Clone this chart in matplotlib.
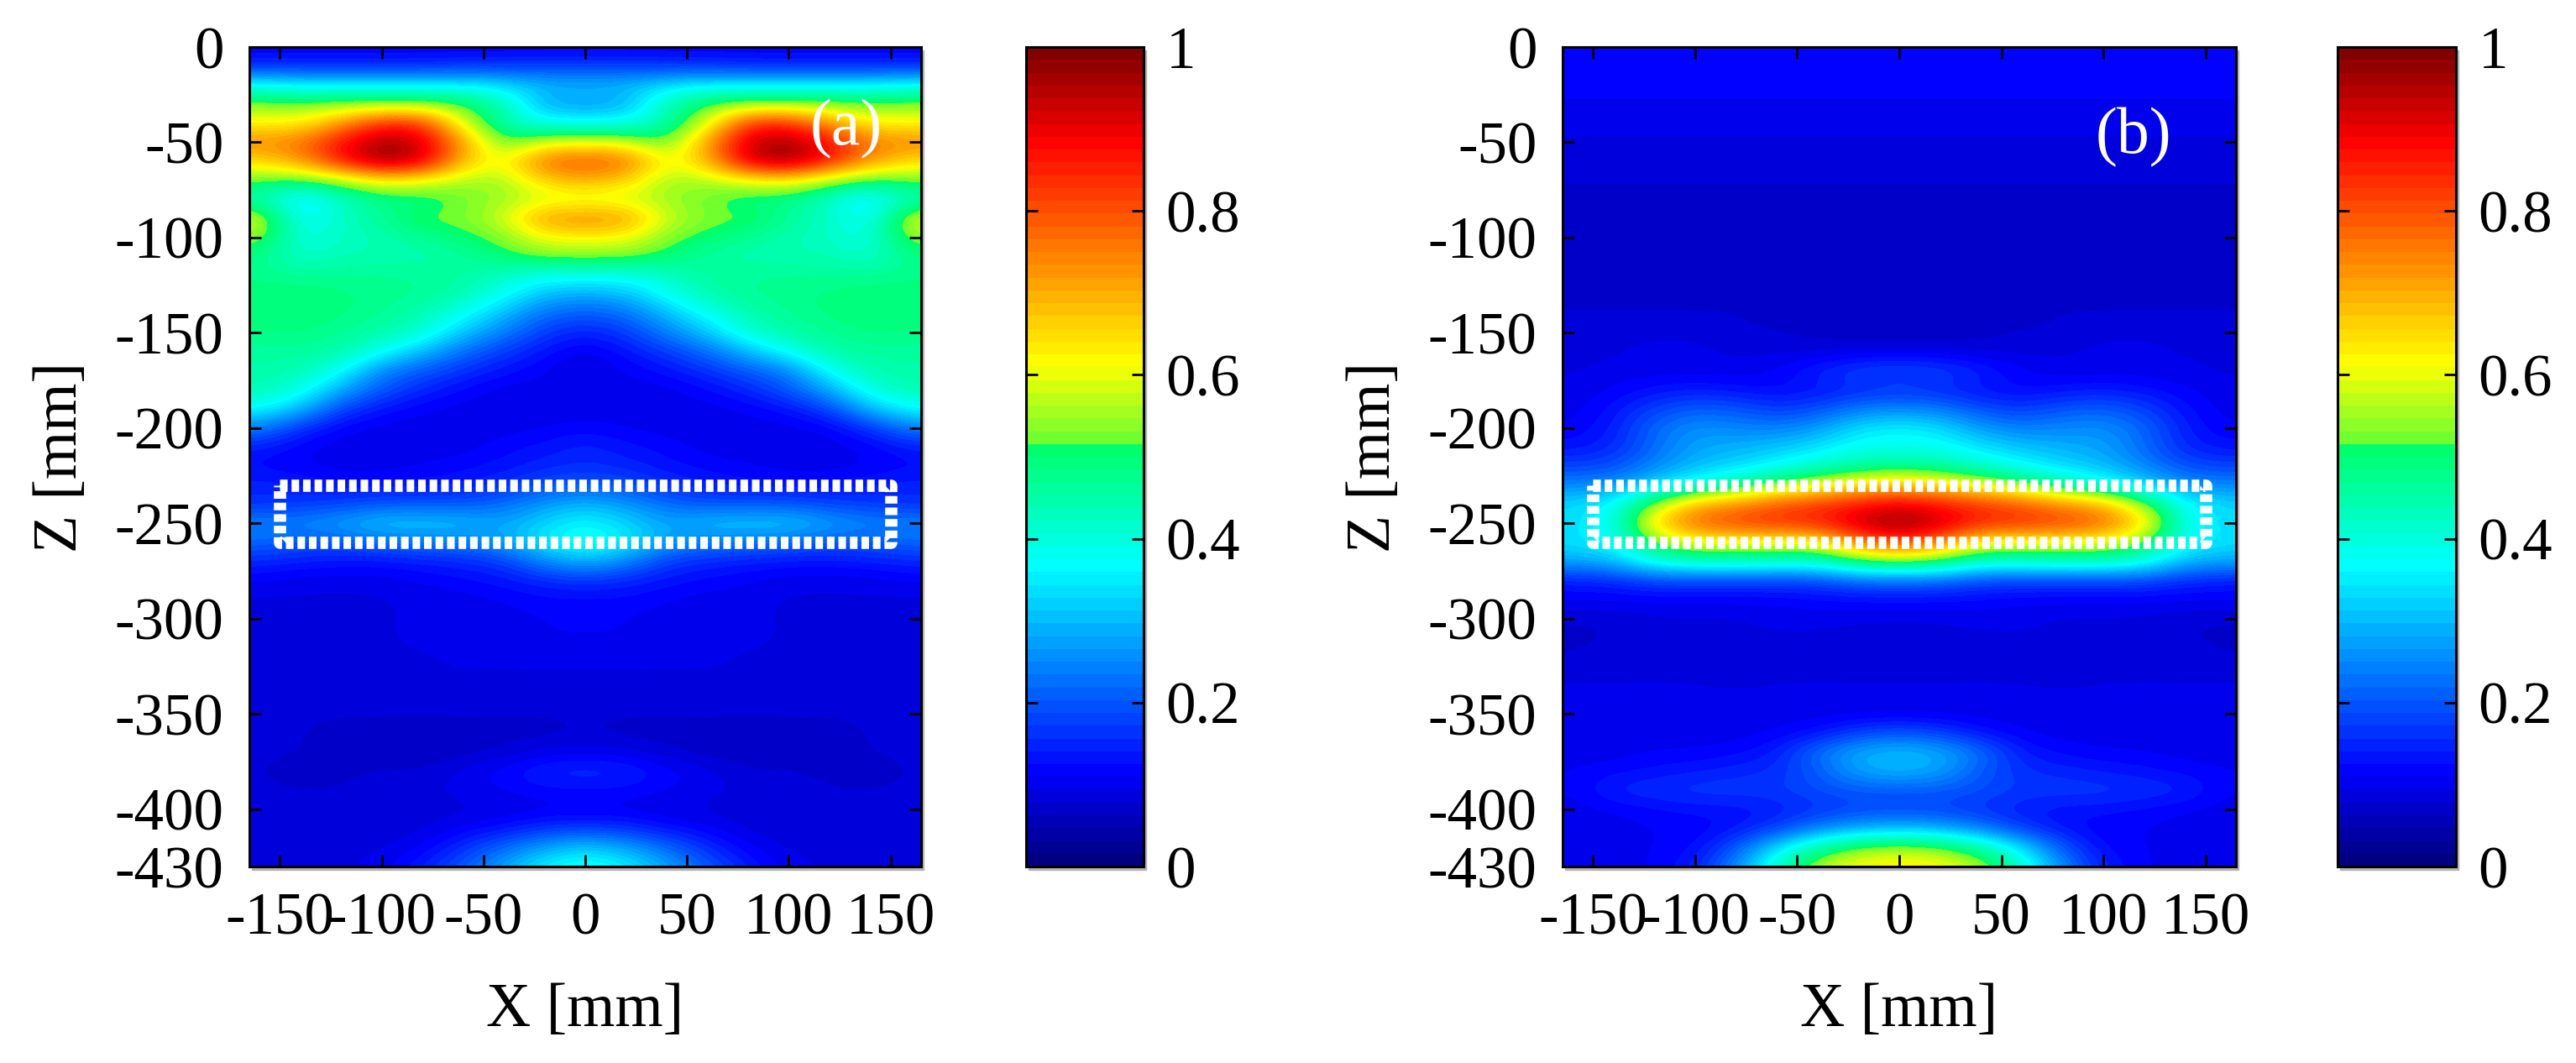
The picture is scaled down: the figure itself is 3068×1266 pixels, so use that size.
import numpy as np
import matplotlib
matplotlib.use('Agg')
import matplotlib.pyplot as plt
from matplotlib.colors import LinearSegmentedColormap
from matplotlib.patches import Rectangle

# half grid, x = 0..160 step 20 (mirrored for the negative side), z = 0..-440 step 10
x_half = [0, 20, 40, 60, 80, 100, 120, 140, 160]
z_rows = [-10 * i for i in range(45)]

field_a = [
    [.11, .11, .11, .11, .11, .11, .11, .11, .11],
    [.17, .17, .16, .16, .15, .15, .15, .15, .15],
    [.30, .30, .34, .36, .36, .36, .36, .36, .38],
    [.27, .28, .44, .52, .54, .54, .54, .53, .54],
    [.38, .38, .45, .58, .84, .85, .72, .62, .62],
    [.60, .59, .50, .72, .93, .97, .88, .76, .74],
    [.80, .78, .60, .68, .93, .98, .86, .72, .65],
    [.70, .66, .55, .56, .60, .62, .55, .50, .52],
    [.58, .58, .55, .52, .48, .48, .42, .33, .44],
    [.74, .73, .58, .53, .53, .47, .42, .36, .60],
    [.62, .61, .53, .50, .47, .44, .42, .39, .55],
    [.53, .53, .50, .46, .44, .44, .44, .41, .48],
    [.39, .38, .42, .46, .47, .47, .47, .47, .48],
    [.28, .30, .38, .44, .47, .48, .49, .50, .50],
    [.20, .22, .30, .38, .44, .47, .49, .50, .50],
    [.14, .17, .24, .31, .41, .45, .47, .49, .48],
    [.10, .13, .17, .22, .30, .38, .45, .46, .46],
    [.08, .11, .13, .16, .20, .24, .38, .44, .45],
    [.12, .10, .10, .12, .15, .20, .28, .40, .44],
    [.10, .09, .10, .10, .11, .13, .18, .30, .37],
    [.12, .11, .10, .10, .10, .10, .11, .16, .24],
    [.15, .13, .12, .10, .10, .10, .10, .11, .14],
    [.16, .15, .13, .12, .11, .10, .10, .11, .12],
    [.20, .19, .16, .14, .13, .13, .13, .14, .15],
    [.30, .27, .22, .20, .20, .20, .18, .17, .16],
    [.37, .33, .28, .31, .32, .32, .28, .25, .25],
    [.40, .36, .27, .24, .23, .22, .20, .20, .22],
    [.30, .25, .17, .15, .14, .13, .13, .14, .15],
    [.16, .15, .13, .12, .11, .10, .10, .10, .11],
    [.12, .12, .11, .10, .10, .09, .09, .09, .09],
    [.11, .11, .10, .10, .10, .09, .09, .09, .09],
    [.11, .11, .10, .10, .10, .09, .09, .09, .09],
    [.10, .10, .10, .10, .09, .09, .09, .09, .09],
    [.09, .09, .09, .09, .09, .09, .09, .09, .09],
    [.09, .09, .09, .09, .09, .09, .09, .09, .09],
    [.08, .08, .08, .08, .08, .08, .08, .08, .09],
    [.08, .07, .07, .07, .06, .07, .07, .08, .08],
    [.10, .10, .08, .07, .06, .07, .07, .08, .08],
    [.16, .15, .12, .10, .08, .08, .07, .07, .08],
    [.12, .12, .11, .10, .09, .09, .08, .08, .08],
    [.10, .10, .09, .09, .08, .08, .08, .08, .08],
    [.17, .16, .13, .11, .09, .08, .08, .08, .08],
    [.32, .28, .22, .16, .11, .09, .09, .09, .09],
    [.40, .36, .28, .20, .14, .10, .09, .09, .09],
    [.42, .38, .30, .22, .15, .10, .09, .09, .09],
]

field_b = [
    [.12, .12, .12, .12, .12, .12, .12, .12, .12],
    [.11, .11, .11, .11, .11, .11, .11, .11, .11],
    [.11, .11, .11, .11, .11, .11, .11, .11, .11],
    [.11, .11, .11, .11, .11, .11, .11, .11, .11],
    [.10, .10, .10, .10, .10, .10, .10, .10, .10],
    [.09, .09, .09, .09, .09, .09, .09, .09, .09],
    [.09, .09, .09, .09, .09, .09, .09, .09, .09],
    [.08, .08, .08, .08, .08, .08, .08, .08, .08],
    [.07, .07, .07, .07, .07, .07, .07, .07, .07],
    [.07, .07, .07, .07, .07, .07, .07, .07, .07],
    [.07, .07, .07, .07, .07, .07, .07, .07, .07],
    [.07, .07, .07, .07, .07, .07, .07, .07, .07],
    [.07, .07, .07, .07, .07, .07, .07, .07, .07],
    [.07, .07, .07, .07, .07, .07, .07, .07, .07],
    [.07, .07, .07, .07, .08, .08, .08, .08, .08],
    [.06, .06, .07, .08, .08, .09, .09, .09, .09],
    [.10, .10, .09, .09, .09, .10, .10, .09, .09],
    [.19, .18, .15, .11, .10, .10, .10, .10, .09],
    [.16, .15, .13, .12, .13, .14, .13, .11, .10],
    [.25, .24, .19, .17, .20, .21, .18, .13, .10],
    [.36, .34, .27, .24, .25, .26, .22, .14, .11],
    [.38, .38, .34, .31, .29, .28, .22, .15, .13],
    [.48, .46, .42, .37, .33, .30, .25, .19, .18],
    [.68, .65, .60, .54, .46, .40, .33, .26, .25],
    [.90, .87, .83, .80, .74, .70, .55, .37, .33],
    [1.0, .93, .85, .84, .82, .78, .66, .38, .33],
    [.82, .75, .60, .60, .60, .60, .52, .37, .34],
    [.53, .50, .42, .42, .43, .43, .40, .30, .28],
    [.22, .22, .18, .18, .18, .18, .18, .15, .14],
    [.12, .12, .12, .11, .11, .11, .11, .11, .11],
    [.10, .10, .10, .10, .09, .09, .09, .08, .08],
    [.07, .08, .09, .09, .09, .09, .09, .08, .07],
    [.08, .09, .09, .09, .09, .09, .09, .09, .08],
    [.09, .09, .09, .09, .08, .09, .09, .09, .09],
    [.10, .10, .10, .10, .10, .10, .10, .10, .10],
    [.10, .10, .10, .10, .10, .10, .10, .10, .10],
    [.20, .18, .13, .11, .10, .10, .10, .10, .10],
    [.31, .29, .23, .14, .12, .11, .11, .10, .10],
    [.30, .28, .20, .16, .15, .14, .13, .12, .11],
    [.20, .20, .19, .17, .17, .17, .16, .15, .11],
    [.18, .18, .16, .14, .13, .13, .12, .11, .10],
    [.30, .28, .24, .17, .13, .11, .11, .10, .10],
    [.56, .54, .46, .34, .20, .12, .11, .10, .10],
    [.63, .62, .57, .42, .25, .14, .11, .10, .10],
    [.65, .63, .58, .44, .27, .14, .11, .10, .10],
]

x_ticks = [-150, -100, -50, 0, 50, 100, 150]
z_ticks = [0, -50, -100, -150, -200, -250, -300, -350, -400, -430]
cbar_ticks = [0, 0.2, 0.4, 0.6, 0.8, 1]
cbar_labels = ['0', '0.2', '0.4', '0.6', '0.8', '1']
box_x = [-150, 150, 150, -150, -150]
box_z = [-230, -230, -260, -260, -230]

plt.rcParams['font.family'] = ['Liberation Serif', 'DejaVu Serif']
plt.rcParams['axes.unicode_minus'] = False

W, H = 3068, 1266
FS = 51

cmap = LinearSegmentedColormap.from_list('jet_cut', [
    (0.0, (0, 0, .5)), (.11, (0, 0, 1)), (.365, (0, 1, 1)), (.514, (0, 1, .4)),
    (.516, (.4, 1, .2)), (.615, (1, 1, 0)), (.89, (1, 0, 0)), (1.0, (.5, 0, 0))], N=64)


def px_axes(l, r, t, b):
    # grey drop shadow behind every box, as in the original
    fig.add_artist(Rectangle(((l + 3) / W, 1 - (b + 4) / H), (r - l) / W, (b - t) / H,
                             transform=fig.transFigure, color='#b4b4b4', zorder=-1))
    return fig.add_axes([l / W, 1 - b / H, (r - l) / W, (b - t) / H])


fig = plt.figure(figsize=(W / 100, H / 100), dpi=100)

panels = [(field_a, '(a)', 297, 1097, 1222, 1362, (0.888, 0.90)),
          (field_b, '(b)', 1861, 2663, 2784, 2925, (0.848, 0.89))]

for field, tag, l, r, cl, cr, tag_pos in panels:
    half = np.array(field)
    full = np.hstack([half[:, :0:-1], half])
    ax = px_axes(l, r, 56, 1032)
    im = ax.imshow(full, cmap=cmap, vmin=0, vmax=1, aspect='auto', interpolation='bicubic',
                   extent=[-170, 170, z_rows[-1] - 5, z_rows[0] + 5], origin='upper')
    ax.plot(box_x, box_z, color='white', lw=10.5, linestyle=(0, (.62, .32)), dash_capstyle='butt')
    ax.set_xlim(-165, 165)
    ax.set_ylim(-430, 0)
    ax.set_xticks(x_ticks)
    ax.set_yticks(z_ticks)
    ax.set_xticklabels([str(v) for v in x_ticks], fontsize=FS)
    ax.set_yticklabels([str(v) for v in z_ticks], fontsize=FS)
    ax.tick_params(direction='in', top=True, right=True, length=10, width=2, pad=22)
    ax.set_xlabel('X [mm]', fontsize=FS + 2, labelpad=31)
    ax.set_ylabel('Z [mm]', fontsize=FS + 2, labelpad=21)
    for s in ax.spines.values():
        s.set_linewidth(2.2)
    ax.text(tag_pos[0], tag_pos[1], tag, color='white', fontsize=FS + 5, ha='center', va='center',
            transform=ax.transAxes)

    cax = px_axes(cl, cr, 56, 1032)
    cb = fig.colorbar(im, cax=cax)
    cb.set_ticks(cbar_ticks)
    cb.set_ticklabels(cbar_labels)
    cax.tick_params(direction='in', left=True, right=True, length=10, width=2, labelsize=FS, pad=19)
    cb.outline.set_linewidth(2.2)

fig.savefig('out.png', dpi=100)
